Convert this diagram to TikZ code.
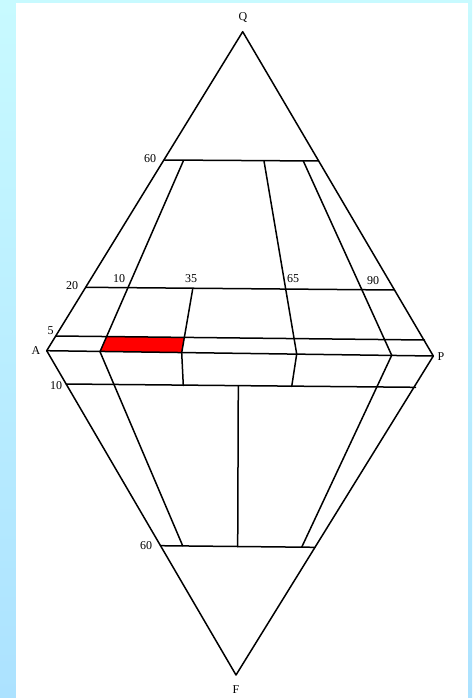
\documentclass[tikz,border=0pt]{standalone}
\usepackage{fontspec}
\setmainfont{Liberation Serif}
\begin{document}
\begin{tikzpicture}[x=1pt,y=-1pt,
  edge/.style={line width=1.5pt,line cap=round,line join=round},
  lbl/.style={inner sep=0pt,font=\fontsize{12}{14}\selectfont}]
\useasboundingbox (0,0) rectangle (472,698);
\shade[top color={rgb,255:red,200;green,250;blue,255},bottom color={rgb,255:red,172;green,226;blue,255}] (0,0) rectangle (472,698);
\fill[white] (16,3) rectangle (467.5,698);
% main vertices
\coordinate (Q) at (242.7,31.7);
\coordinate (F) at (236,675);
\coordinate (A) at (46.7,350.7);
\coordinate (P) at (433.3,356);
% horizontal lines
\coordinate (u60l) at (164.5,160);
\coordinate (u60r) at (318.5,161);
\coordinate (h20l) at (85.8,287.3);
\coordinate (h20r) at (394.5,290);
\coordinate (h5l) at (56,336);
\coordinate (h5r) at (424.5,340);
\coordinate (d10l) at (66.2,384);
\coordinate (d10r) at (415.5,387.3);
\coordinate (d60l) at (160.5,545.7);
\coordinate (d60r) at (315,547.3);
% inner lines
\coordinate (i10t) at (183.3,161);
\coordinate (i10b) at (100,351.7);
\coordinate (i35t) at (192.7,289);
\coordinate (i35b) at (181.7,352.7);
\coordinate (i65t) at (264,161);
\coordinate (i65b) at (296.7,354);
\coordinate (i90t) at (303.3,161);
\coordinate (i90b) at (391.7,355.3);
\coordinate (l35b) at (183.3,385.5);
\coordinate (l65b) at (291.7,386.5);
\coordinate (cvt) at (238.3,386);
\coordinate (cvb) at (237.7,546.5);
\coordinate (lLb) at (182.7,545.8);
\coordinate (lRb) at (301.7,547.2);
% red cell
\fill[red] (i10b) -- (106.3,336.5) -- (184.3,337.4) -- (i35b) -- cycle;
% outline
\draw[edge] (A) -- (Q) -- (P) -- (F) -- cycle;
\draw[edge] (A) -- (P);
\draw[edge] (u60l) -- (u60r);
\draw[edge] (h20l) -- (h20r);
\draw[edge] (h5l) -- (h5r);
\draw[edge] (d10l) -- (d10r);
\draw[edge] (d60l) -- (d60r);
\draw[edge] (i10t) -- (i10b);
\draw[edge] (i35t) -- (i35b);
\draw[edge] (i65t) -- (i65b);
\draw[edge] (i90t) -- (i90b);
\draw[edge] (i35b) -- (l35b);
\draw[edge] (i65b) -- (l65b);
\draw[edge] (cvt) -- (cvb);
\draw[edge] (i10b) -- (lLb);
\draw[edge] (i90b) -- (lRb);
% labels
\node[lbl] (lQ) at (243,18) {Q};
\node[lbl] (lF) at (236,690) {F};
\node[lbl] (lA) at (36,351) {A};
\node[lbl] (lP) at (441,357) {P};
\node[lbl] (l60u) at (150,159) {60};
\node[lbl] (l20) at (72,285.5) {20};
\node[lbl] (l10u) at (119,279) {10};
\node[lbl] (l35) at (191,279) {35};
\node[lbl] (l65) at (293,279) {65};
\node[lbl] (l90) at (373,281) {90};
\node[lbl] (l5) at (50.5,331) {5};
\node[lbl] (l10d) at (56,386) {10};
\node[lbl] (l60d) at (146,546) {60};
\end{tikzpicture}
\end{document}
